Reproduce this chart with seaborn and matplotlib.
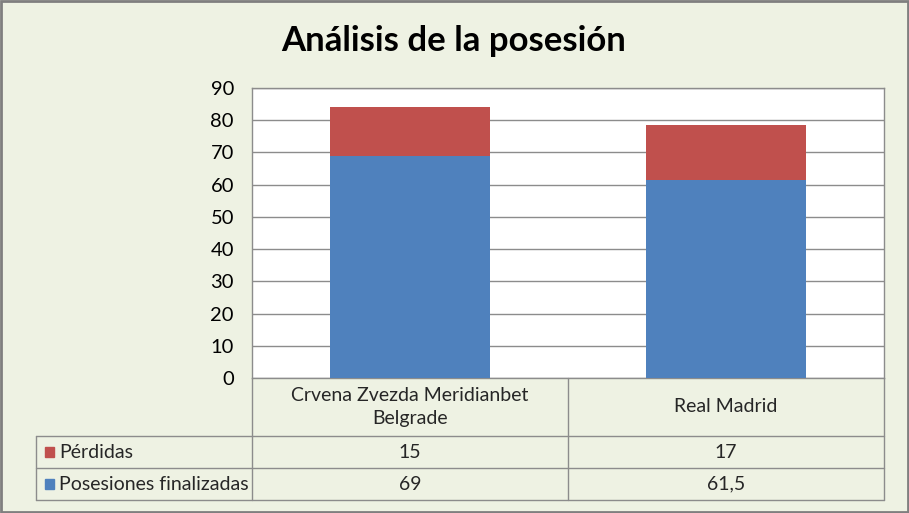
import numpy as np
import pandas as pd
import matplotlib
matplotlib.use("Agg")
from matplotlib import pyplot as plt
from matplotlib.patches import Rectangle
import seaborn as sns

# data
teams = ["Crvena Zvezda Meridianbet\nBelgrade", "Real Madrid"]
perdidas = [15, 17]
posesiones = [69, 61.5]
series_names = ["Pérdidas", "Posesiones finalizadas"]
value_labels = [["15", "17"], ["69", "61,5"]]
yticks = list(range(0, 100, 10))

BG = "#EEF2E3"
BLUE = "#4F81BD"
RED = "#C0504D"
LINE = "#8C8C8C"
FONT = "Lato"


def main():
    sns.set_theme(style="white")
    plt.rcParams["font.family"] = [FONT, "DejaVu Sans"]

    W, H = 909, 513
    fig = plt.figure(figsize=(W / 100, H / 100), dpi=100, facecolor=BG)

    # plot area in pixels: x 252..884, y 88..378
    ax = fig.add_axes([252 / W, 1 - 378 / H, 632 / W, 290 / H])
    ax.set_facecolor("white")

    df = pd.DataFrame({"team": teams, "perdidas": perdidas, "posesiones": posesiones})
    df["total"] = df["perdidas"] + df["posesiones"]

    # stacked bars: total in red, finished possessions in blue on top of it
    sns.barplot(data=df, x="team", y="total", color=RED, width=0.506,
                saturation=1, ax=ax, zorder=3)
    sns.barplot(data=df, x="team", y="posesiones", color=BLUE, width=0.506,
                saturation=1, ax=ax, zorder=3)
    for p in ax.patches:
        p.set_edgecolor("none")

    ax.set_ylim(0, 90)
    ax.set_xlim(-0.5, 1.5)
    ax.set_yticks(yticks)
    ax.set_yticklabels([str(t) for t in yticks], fontsize=14.5, color="black")
    ax.tick_params(axis="y", length=0, pad=13)
    ax.set_xticks([])
    ax.set_xlabel("")
    ax.set_ylabel("")
    ax.grid(axis="y", color=LINE, linewidth=1, zorder=0)
    for s in ax.spines.values():
        s.set_color(LINE)
        s.set_linewidth(1)

    fig.text(454 / W, 1 - 41 / H, "Análisis de la posesión", ha="center", va="center",
             fontsize=25, fontweight="bold", color="black")

    # data table below the plot, drawn in pixel coordinates
    tb = fig.add_axes([0, 0, 1, 1], facecolor="none")
    tb.set_xlim(0, W)
    tb.set_ylim(H, 0)
    tb.axis("off")

    col_edges = [252, 568, 884]
    col_centers = [(col_edges[i] + col_edges[i + 1]) / 2 for i in range(2)]
    row_edges = [378, 436, 468, 500]
    kw = dict(color=LINE, linewidth=1)
    for x in col_edges:
        tb.plot([x, x], [378, 500], **kw)
    tb.plot([36, 36], [436, 500], **kw)
    for y in row_edges[1:]:
        tb.plot([36, 884], [y, y], **kw)

    for i, t in enumerate(teams):
        tb.text(col_centers[i], (row_edges[0] + row_edges[1]) / 2, t, ha="center",
                va="center", fontsize=14, linespacing=1.45)

    colors = [RED, BLUE]
    for r in range(2):
        yc = (row_edges[r + 1] + row_edges[r + 2]) / 2
        tb.add_patch(Rectangle((45, yc - 5), 9, 10, color=colors[r]))
        tb.text(59, yc, series_names[r], ha="left", va="center", fontsize=14)
        for i in range(2):
            tb.text(col_centers[i], yc, value_labels[r][i], ha="center", va="center",
                    fontsize=14)

    # outer chart border
    tb.add_patch(Rectangle((1, 1), W - 2, H - 2, fill=False, edgecolor="#7F7F7F",
                           linewidth=2))

    fig.savefig("out.png", dpi=100, facecolor=BG)


if __name__ == "__main__":
    main()
